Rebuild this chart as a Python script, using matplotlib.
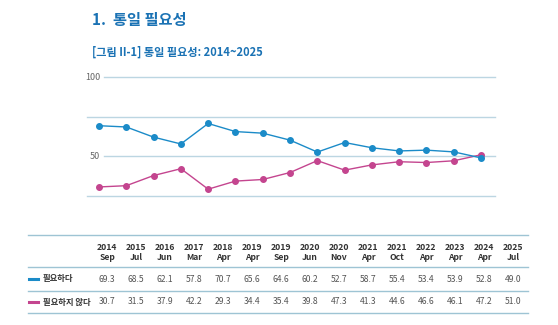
import matplotlib.pyplot as plt
from matplotlib.lines import Line2D

plt.rcParams['font.family'] = ['Noto Sans CJK KR', 'DejaVu Sans']

years = ['2014', '2015', '2016', '2017', '2018', '2019', '2019', '2020',
         '2020', '2021', '2021', '2022', '2023', '2024', '2025']
months = ['Sep', 'Jul', 'Jun', 'Mar', 'Apr', 'Apr', 'Sep', 'Jun',
          'Nov', 'Apr', 'Oct', 'Apr', 'Apr', 'Apr', 'Jul']
need = [69.3, 68.5, 62.1, 57.8, 70.7, 65.6, 64.6, 60.2,
        52.7, 58.7, 55.4, 53.4, 53.9, 52.8, 49.0]
no_need = [30.7, 31.5, 37.9, 42.2, 29.3, 34.4, 35.4, 39.8,
           47.3, 41.3, 44.6, 46.6, 46.1, 47.2, 51.0]
series_names = ['필요하다', '필요하지 않다']

BLUE = '#1b8bc8'
PINK = '#c4458f'
TITLE = '#1a72b4'
GRID = '#bcd6e2'
RULE = '#9ec4d4'

W, H = 558, 325
fig = plt.figure(figsize=(W / 100, H / 100), dpi=100)


def fx(px):
    return px / W


def fy(py):
    return 1 - py / H


fig.text(fx(92), fy(20), '1.  통일 필요성', color=TITLE, fontsize=11,
         fontweight='bold', va='center', ha='left')
fig.text(fx(92), fy(52), '[그림 II-1] 통일 필요성: 2014~2025', color=TITLE,
         fontsize=8, fontweight='bold', va='center', ha='left')

# line chart
ax = fig.add_axes([fx(87), fy(196), fx(495) - fx(87), fy(77) - fy(196)])
x = list(range(len(need)))
xmax = len(need) - 1 + 0.51
ax.set_xlim(-0.44, xmax)
ax.set_ylim(25, 100)
for v in [25, 75]:
    ax.plot([-0.44, xmax], [v, v], color=GRID, lw=1.0, zorder=0,
            clip_on=False)
for v in [50, 100]:
    ax.plot([0.18, xmax], [v, v], color=GRID, lw=1.0, zorder=0,
            clip_on=False)
    ax.text(0.04, v, str(v), color='#666666', fontsize=6.5, ha='right',
            va='center')
ax.plot(x, need, color=BLUE, lw=1.0, marker='o', ms=4, zorder=3)
ax.plot(x, no_need, color=PINK, lw=1.0, marker='o', ms=4, zorder=2)
ax.axis('off')

# data table
col0, dcol = 107, 29.0
row_lines = [235, 267, 291, 313]
for yy in row_lines:
    fig.add_artist(Line2D([fx(28), fx(528)], [fy(yy), fy(yy)],
                          color=RULE, lw=1.0))
for i, (yr, mo) in enumerate(zip(years, months)):
    cx = fx(col0 + i * dcol)
    fig.text(cx, fy(247), yr, fontsize=6.2, fontweight='bold', ha='center',
             va='center', color='#333333')
    fig.text(cx, fy(257), mo, fontsize=6.2, fontweight='bold', ha='center',
             va='center', color='#333333')
    fig.text(cx, fy(279), f'{need[i]:.1f}', fontsize=6.2, ha='center',
             va='center', color='#555555')
    fig.text(cx, fy(302), f'{no_need[i]:.1f}', fontsize=6.2, ha='center',
             va='center', color='#555555')

for name, color, yy in [(series_names[0], BLUE, 279),
                        (series_names[1], PINK, 302)]:
    fig.add_artist(Line2D([fx(29), fx(38)], [fy(yy), fy(yy)], color=color,
                          lw=2.2))
    fig.text(fx(43), fy(yy), name, fontsize=6, fontweight='bold',
             ha='left', va='center', color='#333333')

fig.savefig('out.png', dpi=100)
